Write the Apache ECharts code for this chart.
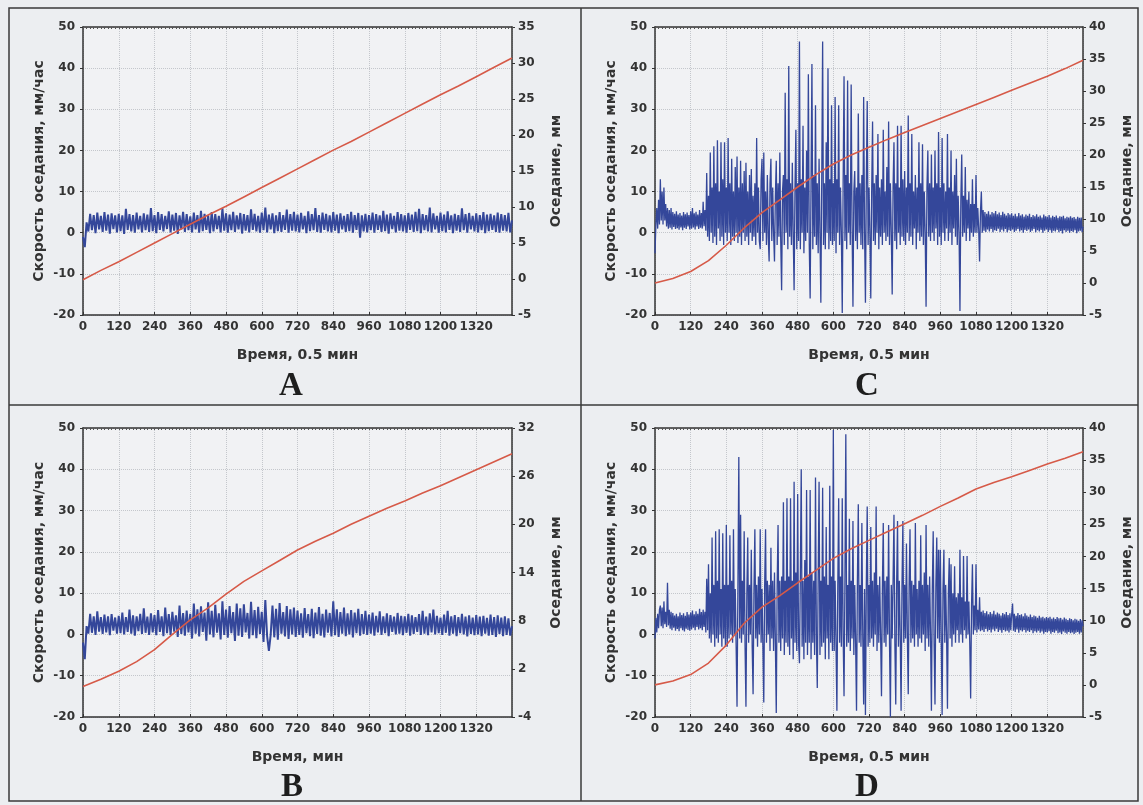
<!DOCTYPE html>
<html>
<head>
<meta charset="utf-8">
<title>Скорость оседания</title>
<script src="https://cdn.jsdelivr.net/npm/echarts@6/dist/echarts.min.js"></script>
<style>
  html, body { margin: 0; padding: 0; background: #eceef1; }
  #chart { width: 1143px; height: 805px; }
</style>
</head>
<body>
<div id="chart"></div>
<script>
// blue traces, time 0..1440. A and B: a reading every 6 units (241 values),
// C and D: every 3 units (481 values), one line per 120 units
const STEP_AB = 6;
const STEP_CD = 3;

const blueA = [
  -1, -3.5, 2.5, 0.3, 4.6, 0.6, 4.3, -0.1, 4.9, 0.8, 4.1, 0.2, 5.0, 0.5, 4.4, -0.2, 4.7, 0.9, 4.2, 0.1,
  4.6, 0.4, 4.2, -0.3, 5.8, 0.7, 4.5, 0.3, 4.3, 0.0, 4.9, 0.8, 4.1, 0.1, 4.7, 0.6, 4.4, 0.2, 6.0, 0.4,
  4.3, -0.1, 5.0, 0.7, 4.5, 0.3, 4.1, 0.9, 5.2, 0.1, 4.4, 0.5, 4.8, -0.3, 4.2, 0.8, 5.1, 0.2, 4.5, 0.6,
  4.0, 0.1, 4.9, 0.8, 4.3, 0.0, 5.3, 0.4, 4.6, 0.7, 4.2, -0.1, 5.0, 0.3, 4.5, 0.9, 4.1, 0.1, 5.9, 0.5,
  4.7, 0.0, 4.4, 0.6, 5.1, 0.2, 4.2, 0.8, 4.8, -0.2, 4.5, 0.5, 4.3, 0.1, 5.7, 0.7, 4.6, 0.3, 4.1, 0.0,
  4.9, 0.6, 6.1, 0.1, 4.4, 0.8, 4.7, -0.1, 4.2, 0.4, 5.0, 0.2, 4.3, 0.7, 5.6, 0.0, 4.5, 0.5, 5.1, 0.3,
  4.4, 0.1, 4.8, 0.8, 4.1, -0.1, 5.2, 0.4, 4.5, 0.6, 6.0, 0.2, 4.3, 0.0, 4.9, 0.7, 4.6, 0.3, 4.2, 0.1,
  5.0, 0.5, 4.4, -0.1, 4.7, 0.8, 4.1, 0.2, 4.5, 0.4, 5.1, 0.0, 4.3, 0.7, 4.8, -1.2, 4.2, 0.3, 4.6, 0.1,
  4.3, 0.6, 4.9, 0.0, 4.5, 0.7, 4.2, 0.2, 5.3, 0.4, 4.4, -0.2, 4.7, 0.9, 4.1, 0.1, 5.0, 0.5, 4.5, 0.3,
  4.2, 0.0, 4.8, 0.7, 4.4, 0.2, 5.1, 0.4, 5.8, -0.1, 4.5, 0.6, 4.3, 0.3, 6.1, 0.1, 4.7, 0.8, 4.1, 0.0,
  4.9, 0.4, 4.4, 0.1, 5.2, 0.7, 4.2, -0.1, 4.6, 0.5, 4.3, 0.2, 5.9, 0.6, 4.5, 0.0, 4.8, 0.8, 4.1, 0.3,
  4.7, 0.1, 4.3, 0.6, 5.0, -0.1, 4.4, 0.4, 4.6, 0.7, 4.2, 0.2, 4.9, 0.0, 4.5, 0.5, 4.3, 0.3, 4.8, 0.1,
  3.0
];

const blueB = [
  -2, -6, 2.0, 0.2, 5.0, 0.4, 4.4, -0.1, 5.6, 0.7, 4.2, 0.1, 4.8, 0.5, 4.4, -0.2, 4.9, 0.9, 4.1, 0.2,
  4.5, 0.3, 5.3, 0.0, 4.2, 0.6, 6.0, 0.2, 4.6, -0.3, 4.4, 0.8, 5.0, 0.1, 6.3, 0.4, 4.3, -0.1, 5.1, 0.5,
  4.7, -0.2, 5.9, 0.6, 4.4, -0.4, 6.5, 0.3, 4.9, -0.1, 5.5, 0.7, 4.6, -0.6, 7.0, 0.1, 5.2, -0.3, 5.8, 0.5,
  5.0, -1.0, 7.5, 0.2, 6.1, -0.5, 6.8, 0.6, 5.3, -1.5, 7.8, 0.0, 5.7, -0.7, 7.2, 0.4, 5.1, -1.2, 8.0, -0.1,
  6.0, -0.8, 6.9, 0.3, 5.4, -1.6, 7.5, -0.3, 6.3, -0.6, 7.3, 0.5, 5.2, -1.0, 7.9, -0.2, 5.9, -0.9, 6.7, 0.1,
  5.5, -1.8, 8.3, -0.4, -4.0, -0.1, 7.0, -0.7, 6.2, -1.3, 7.6, 0.2, 5.4, -0.5, 6.9, -1.1, 6.1, 0.0, 6.5, -0.6,
  5.8, -0.1, 5.1, -0.8, 6.4, 0.3, 4.9, -0.4, 6.2, -0.9, 5.3, 0.1, 6.6, -0.3, 5.0, -0.7, 6.0, 0.4, 5.2, -0.5,
  8.0, -0.2, 6.1, -0.6, 5.4, 0.2, 6.5, -0.4, 5.1, 0.0, 5.9, -0.7, 5.3, 0.3, 6.2, -0.3, 4.9, 0.1, 5.7, -0.1,
  4.8, 0.2, 5.3, -0.3, 4.5, 0.5, 5.6, -0.1, 4.4, 0.3, 5.1, -0.4, 4.7, 0.6, 4.3, 0.0, 5.2, 0.2, 4.5, -0.2,
  4.4, 0.4, 5.0, -0.3, 4.6, 0.1, 4.2, 0.6, 4.9, -0.1, 5.7, 0.2, 4.3, -0.2, 5.1, 0.5, 6.0, 0.0, 4.5, 0.3,
  4.1, -0.1, 4.8, 0.4, 5.7, -0.3, 4.4, 0.2, 4.7, -0.4, 4.2, 0.3, 5.0, 0.0, 4.3, -0.5, 4.6, 0.1, 4.1, -0.2,
  4.7, 0.0, 4.3, -0.4, 4.5, 0.2, 4.0, -0.3, 4.8, -0.1, 4.2, -0.6, 4.6, 0.1, 4.1, -0.4, 4.4, -0.1, 3.9, -0.3,
  2.0
];

const blueC = [
  -5, 2, 6, 1, 8, 2, 13, 3, 10, 2, 11, 3, 7, 1.5, 6, 1, 5.5, 1.2, 6, 0.8,
  5, 1.4, 4.6, 0.9, 5.2, 1.1, 4.4, 0.7, 4.8, 1.3, 4.2, 0.6, 5.0, 1.2, 4.5, 0.9, 4.9, 1.5, 4.3, 0.8,
  5.2, 1.0, 6.0, 1.3, 4.7, 0.8, 5.1, 1.5, 4.4, 0.9, 5.5, 1.2, 4.8, 1.0, 7.5, 1.6, 5.5, 0.5, 14.5, -1,
  9, -2, 19.5, 0, 11, -2.5, 21, -1, 12, -3, 22.5, 1, 10, -2, 22, -1, 13, -3, 22, 0,
  11, -2, 23, 0, 12, -3, 18, -1, 10, -2, 16, 0, 18.5, -2.5, 11, -1, 17.5, -3, 12, 0,
  15, -2, 17, -1, 10, -3, 14, 0, 15.5, -2, 9, -1, 12, -3, 23, 0, 11, -2, -4, 13,
  18, -2, 19.5, 0, 10, -3, 14, -1, -7, 12, 18, -2, 11, 0, -7, 9, 17.5, -3, 12, -1,
  19.5, -2, -14, 10, 14, -3, 34, 0, 13, -4, 40.5, -1, 12, -3, 17, 0, -14, 11, 25, -4,
  12, -2, 46.5, -4, 13, 0, 26, -5, 11, -2, 20, 0, 38.5, -3, -16, 12, 41, -4, 14, -1,
  31, -3, 12, -5, 18, 0, -17, 13, 46.5, -3, 12, -4, 22, 0, 40, -4, 13, -2, 31, -3,
  12, -2, 33, -5, 13, 0, 31, -3, 11, 0, -19.5, 12, 38, -2, 14, -4, 37, 0, 12, -3,
  36, 2, -18, 10, 15, -2, 11, -4, 29, 0, 12, -3, 14, -4, 33, 1, -17, 12, 32, -3,
  11, 0, -16, 10, 27, -2, 12, -3, 14, 0, 24, -4, 11, -1, 13, -3, 25, 0, 10, -2,
  16, -1, 27, -3, 12, 0, -15, 11, 22, -2, 12, -4, 26, 0, 11, -3, 26, -1, 13, -2,
  15, -3, 11, 0, 28.5, -2, 12, -1, 24, -3, 10, 1, 14, -4, 11, 0, 22, -2, 12, -1,
  21.5, -3, 10, 0, -18, 11, 20, -1, 12, -2, 19, 0, 11, -2, 20, 1, 12, -3, 24.5, -1,
  11, -3, 23, 0, 12, -2, 10, 1, 24, -2, 11, 0, 20, -3, 10, 1, 14, -1, 18, -3,
  9, 0, -19, 8, 19, -1, 9, 0, 16, -2, 8, 1, 10, -2, 7, 0, 13, -1, 7, 0,
  14, 0, 6, 1, -7, 5, 10, 0, 5.5, 0.5, 5, 0.2, 4.6, 0.8, 5.2, 0.3, 4.4, 0.9, 5.0, 0.1,
  4.7, 0.6, 5.3, 0.4, 4.5, 1.0, 4.9, 0.2, 4.3, 0.7, 5.1, 0.3, 4.6, 0.9, 4.2, 0.1, 4.8, 0.6, 4.4, 0.4,
  4.7, 0.8, 4.1, 0.2, 4.6, 0.5, 4.0, 0.9, 4.8, 0.3, 4.2, 0.6, 4.5, 0.0, 3.9, 0.7, 4.4, 0.4, 4.1, 0.8,
  4.6, 0.2, 3.8, 0.5, 4.3, 0.9, 4.0, 0.1, 4.5, 0.6, 3.9, 0.3, 4.2, 0.7, 3.7, 0.0, 4.4, 0.5, 4.0, 0.8,
  3.9, 0.2, 4.3, 0.6, 3.7, 0.0, 4.1, 0.5, 3.8, 0.3, 4.2, 0.7, 3.6, 0.1, 4.0, 0.4, 3.9, -0.2, 4.1, 0.6,
  3.5, 0.2, 3.9, 0.5, 3.7, 0.0, 4.0, 0.4, 3.6, 0.2, 3.8, 0.6, 3.4, -0.1, 3.9, 0.3, 3.6, 0.5, 3.7, 0.2,
  1.5
];

const blueD = [
  -1, 4, 0.5, 5, 1.5, 6, 7, 2, 6.5, 1.5, 8, 2.5, 5.5, 1.8, 12.5, 2.2, 6, 1.4, 5.5, 1.0,
  5.2, 1.6, 4.6, 0.9, 5.0, 1.3, 4.4, 0.8, 5.3, 1.5, 4.7, 1.0, 5.1, 0.7, 4.5, 1.4, 5.4, 1.1, 4.8, 0.9,
  5.3, 1.2, 5.8, 1.6, 4.9, 1.0, 5.6, 1.8, 5.0, 1.2, 6.2, 1.5, 5.4, 1.0, 6.0, 1.8, 5.5, 0.5, 13.5, 1,
  17, -1, 10, -2, 23.5, 0, 12, -3, 25, -1, 13, -2, 25.5, 0, 11, -3, 24.5, -1, 12, -3,
  26.5, -3, 12, -1, 24, 0, 13, -2, 25.5, 0, 11, -3, -17.5, 12, 43, -1, 29, -2, 13, 0,
  25, -3, -17.5, 10, 23.5, -2, 12, 0, 20.5, -3, -14.5, 11, 25.5, -1, 12, -3, 14, 0, 25.5, -2,
  11, -3, -16.5, 12, 25.5, -2, 13, 0, 12, -4, 21, -1, 13, -4, 15, -2, -19, 12, 26.5, -2,
  13, -4, 14, -1, 32, -5, 13, -2, 33, -3, 14, -5, 33, -1, 13, -6, 37, -2, 15, -4,
  34, -2, -7, 14, 40, -3, 13, -6, 18, -2, 35, -5, 14, -2, 35, -6, 15, -2, 13, -5,
  38, -1, -13, 14, 37, -5, 13, -3, 35.5, -2, 14, -6, 26, -1, 12, -6, 36, -2, 14, -4,
  49.5, -4, 13, -2, -18.5, 12, 33, -2, 14, -3, 33, 0, -15, 13, 48.5, -3, 12, -2, 28, -4,
  13, -1, 27.5, -5, 12, -2, -18.5, 13, 31.5, -2, 12, -3, 27, 0, -17, 11, -19.5, 12, 31, -3,
  12, -2, 26, -1, 13, -3, 15, 0, 31, -4, 12, -2, 14, 0, -15, 11, 27, -2, 13, -3,
  14, 0, 26.5, -2, -20, 12, -1, 13, 29, -2, -17, 12, 27.5, -3, 13, 0, -18.5, 12, 27.5, -2,
  12, -1, 22, 0, -14.5, 12, 25.5, -2, 13, -1, 12, -3, 27, 0, 11, -3, 13, -1, 24, -2,
  12, 0, 15, -4, 26.5, -1, 12, -3, 14, 0, -18.5, 11, 25, -2, -17, 12, 23.5, -1, 20.5, -2,
  20.5, -1, -19.5, 11, 20.5, -2, 12, 0, -18, 10, 18.5, -1, 17, -3, 10, 0, 16.5, -2, 9, 1,
  10, -2, 20.5, 0, 9, -2, 19, 1, 8, -1, 19, 0, 8, -2, -15.5, 7, 17, 0, 7, 1,
  17, 0.5, 6, 1.2, 9, 0.8, 5.5, 1.0, 5.8, 0.6, 5.2, 1.3, 5.6, 0.7, 4.9, 1.1, 5.4, 0.5, 5.0, 1.2,
  5.7, 0.8, 4.8, 1.4, 5.3, 0.6, 5.0, 1.0, 4.6, 0.4, 5.2, 1.1, 4.9, 0.7, 5.4, 0.9, 4.7, 0.5, 5.1, 1.0,
  4.8, 7.5, 0.9, 5.0, 0.6, 4.5, 1.2, 5.2, 0.4, 4.7, 1.0, 4.9, 0.7, 4.4, 1.1, 5.1, 0.5, 4.6, 0.9, 4.3,
  0.6, 4.8, 1.0, 4.2, 0.3, 4.6, 0.8, 4.4, 0.5, 4.0, 0.9, 4.5, 0.4, 4.1, 0.7, 4.3, 0.2, 3.9, 0.6, 4.2,
  0.5, 4.0, 0.8, 4.3, 0.2, 3.8, 0.6, 4.1, 0.4, 3.7, 0.9, 4.2, 0.3, 3.9, 0.5, 4.0, 0.1, 3.6, 0.7, 4.1,
  0.4, 3.8, 0.2, 3.5, 0.6, 3.9, 0.3, 3.7, 0.5, 3.4, 0.1, 3.8, 0.4, 3.6, 0.6, 3.3, 0.2, 3.7, 0.5, 3.4,
  2.0
];

// red curves (right axis, мм) read every 60 time units
const redTime = [0, 60, 120, 180, 240, 300, 360, 420, 480, 540, 600, 660, 720,
                 780, 840, 900, 960, 1020, 1080, 1140, 1200, 1260, 1320, 1380, 1440];
const redA = [-0.1, 1.2, 2.4, 3.7, 5.0, 6.3, 7.6, 8.9, 10.1, 11.4, 12.7, 14.0, 15.3,
              16.6, 17.9, 19.1, 20.4, 21.7, 23.0, 24.3, 25.6, 26.8, 28.1, 29.4, 30.7];
const redB = [-0.2, 0.7, 1.7, 2.9, 4.4, 6.3, 8.1, 9.6, 11.3, 12.9, 14.2, 15.5, 16.8,
              17.9, 18.9, 20.0, 21.0, 22.0, 22.9, 23.9, 24.8, 25.8, 26.8, 27.8, 28.8];
const redC = [0, 0.7, 1.8, 3.5, 5.9, 8.6, 11.0, 13.0, 15.0, 16.9, 18.6, 20.0, 21.2,
              22.4, 23.5, 24.6, 25.7, 26.8, 27.9, 29.0, 30.1, 31.2, 32.3, 33.5, 34.8];
const redD = [0, 0.6, 1.6, 3.4, 6.2, 9.6, 12.1, 13.9, 15.9, 17.8, 19.7, 21.2, 22.5,
              23.8, 25.1, 26.4, 27.8, 29.1, 30.5, 31.5, 32.4, 33.4, 34.4, 35.3, 36.3];

const xTicks = { min: 0, max: 1440, interval: 120 };
const leftTicks = { min: -20, max: 50, interval: 10 };
const rightTicksA = { min: -5, max: 35, interval: 5 };
const rightTicksB = { min: -4, max: 32, interval: 6 };
const rightTicksC = { min: -5, max: 40, interval: 5 };
const rightTicksD = { min: -5, max: 40, interval: 5 };

const panels = [
  { letter: 'A', blue: blueA, step: STEP_AB, red: redA, right: rightTicksA, xName: 'Время, 0.5 мин',
    blueWidth: 2, grid: { left: 83, top: 27, width: 429, height: 288 }, lx: 291, ly: 386 },
  { letter: 'C', blue: blueC, step: STEP_CD, red: redC, right: rightTicksC, xName: 'Время, 0.5 мин',
    blueWidth: 1.3, grid: { left: 655, top: 27, width: 428, height: 288 }, lx: 867, ly: 386 },
  { letter: 'B', blue: blueB, step: STEP_AB, red: redB, right: rightTicksB, xName: 'Время, мин',
    blueWidth: 2, grid: { left: 83, top: 428, width: 429, height: 289 }, lx: 292, ly: 787 },
  { letter: 'D', blue: blueD, step: STEP_CD, red: redD, right: rightTicksD, xName: 'Время, 0.5 мин',
    blueWidth: 1.3, grid: { left: 655, top: 428, width: 428, height: 289 }, lx: 867, ly: 787 }
];

const FONT = 'DejaVu Sans';
const INK = '#333';
const plain = v => String(v);
const labelStyle = { fontFamily: FONT, fontWeight: 'bold', fontSize: 12, color: INK, formatter: plain };
const nameStyle = { fontFamily: FONT, fontWeight: 'bold', fontSize: 14, color: INK };
const frameLine = { onZero: false, lineStyle: { color: INK, width: 1.5 } };
const gridLine = { show: true, lineStyle: { color: '#c4c7cc', type: 'dotted', width: 1 } };

const option = {
  backgroundColor: '#eceef1',
  animation: false,
  grid: [],
  xAxis: [],
  yAxis: [],
  series: [],
  graphic: [
    { type: 'rect', shape: { x: 9, y: 8, width: 1129, height: 793 },
      style: { fill: 'none', stroke: '#3a3a3a', lineWidth: 1.5 } },
    { type: 'line', shape: { x1: 581, y1: 8, x2: 581, y2: 801 },
      style: { stroke: '#3a3a3a', lineWidth: 1.5 } },
    { type: 'line', shape: { x1: 9, y1: 405, x2: 1138, y2: 405 },
      style: { stroke: '#3a3a3a', lineWidth: 1.5 } }
  ]
};

panels.forEach((p, i) => {
  option.grid.push(Object.assign({ show: true, backgroundColor: '#f1f2f4', borderWidth: 0 }, p.grid));

  // bottom time axis
  option.xAxis.push({
    type: 'value', gridIndex: i, position: 'bottom',
    min: xTicks.min, max: xTicks.max, interval: xTicks.interval,
    name: p.xName, nameLocation: 'middle', nameGap: 33, nameTextStyle: nameStyle,
    axisLine: frameLine,
    axisTick: { show: true, inside: true, length: 3, lineStyle: { color: INK } },
    axisLabel: Object.assign({ margin: 6, showMaxLabel: false }, labelStyle),
    splitLine: gridLine
  });
  // top edge of the box with fine ticks
  option.xAxis.push({
    type: 'value', gridIndex: i, position: 'top',
    min: xTicks.min, max: xTicks.max, interval: 12,
    axisLine: frameLine,
    axisTick: { show: true, inside: true, length: 2, lineStyle: { color: '#555' } },
    axisLabel: { show: false },
    splitLine: { show: false }
  });
  option.yAxis.push({
    type: 'value', gridIndex: i, position: 'left',
    min: leftTicks.min, max: leftTicks.max, interval: leftTicks.interval,
    name: 'Скорость оседания, мм/час', nameLocation: 'middle', nameGap: 37, nameRotate: 90,
    nameTextStyle: nameStyle,
    axisLine: frameLine,
    axisTick: { show: true, length: 3, lineStyle: { color: INK } },
    axisLabel: Object.assign({ margin: 8 }, labelStyle),
    splitLine: gridLine
  });
  option.yAxis.push({
    type: 'value', gridIndex: i, position: 'right',
    min: p.right.min, max: p.right.max, interval: p.right.interval,
    name: 'Оседание, мм', nameLocation: 'middle', nameGap: 37, nameRotate: 90,
    nameTextStyle: nameStyle,
    axisLine: frameLine,
    axisTick: { show: true, length: 3, lineStyle: { color: INK } },
    axisLabel: Object.assign({ margin: 6 }, labelStyle),
    splitLine: { show: false }
  });

  option.series.push({
    type: 'line', xAxisIndex: i * 2, yAxisIndex: i * 2,
    data: p.blue.map((v, k) => [k * p.step, v]),
    showSymbol: false, lineStyle: { color: '#34479a', width: p.blueWidth }
  });
  option.series.push({
    type: 'line', xAxisIndex: i * 2, yAxisIndex: i * 2 + 1,
    data: p.red.map((v, k) => [redTime[k], v]),
    showSymbol: false, lineStyle: { color: '#d65a48', width: 1.6 }
  });

  option.graphic.push({
    type: 'text', x: p.lx, y: p.ly,
    style: { text: p.letter, font: 'bold 33px "Liberation Serif"', fill: '#1e1e1e',
             align: 'center', verticalAlign: 'middle' }
  });
});

const chart = echarts.init(document.getElementById('chart'));
chart.setOption(option);
</script>
</body>
</html>
